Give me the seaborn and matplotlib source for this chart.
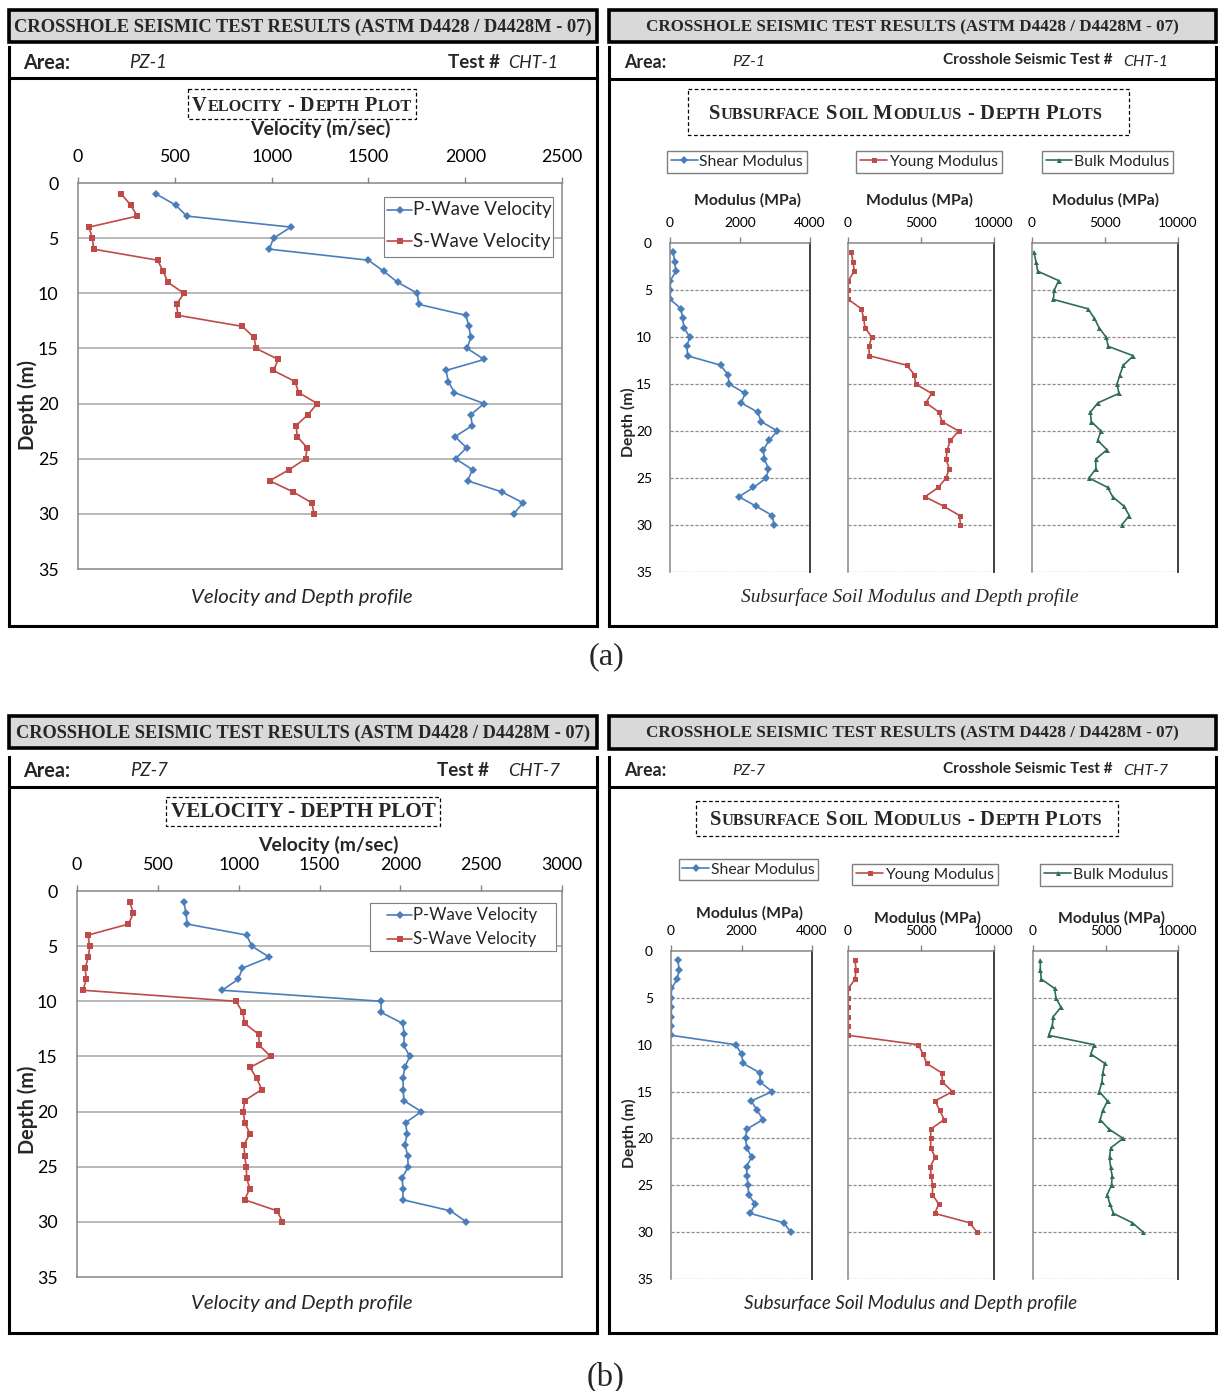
import matplotlib
matplotlib.use("Agg")
import matplotlib.pyplot as plt
import seaborn as sns
from matplotlib.patches import Rectangle
from matplotlib.lines import Line2D

# ---------------- data ----------------
depth = list(range(1, 31))

p_wave_a = [404, 504, 562, 1100, 1010, 988, 1500, 1579, 1651, 1753, 1760, 2004, 2019, 2029, 2010,
            2098, 1901, 1913, 1944, 2098, 2029, 2036, 1947, 2007, 1950, 2038, 2012, 2188, 2299, 2250]
s_wave_a = [224, 272, 306, 57, 74, 81, 411, 440, 464, 547, 509, 516, 849, 909, 920,
            1035, 1009, 1121, 1140, 1236, 1188, 1126, 1133, 1183, 1176, 1090, 990, 1110, 1208, 1219]
shear_a = [95, 133, 171, 10, 10, 10, 314, 361, 399, 560, 485, 503, 1444, 1653, 1691,
           2147, 2033, 2508, 2603, 3069, 2831, 2670, 2698, 2812, 2755, 2385, 1967, 2461, 2926, 2974]
young_a = [228, 342, 434, 20, 20, 23, 913, 1073, 1164, 1621, 1438, 1461, 4018, 4543, 4635,
           5730, 5342, 6233, 6438, 7580, 7009, 6803, 6712, 6940, 6712, 6187, 5274, 6552, 7648, 7694]
bulk_a = [137, 274, 388, 1826, 1530, 1461, 3835, 4269, 4589, 5068, 5228, 6940, 6256, 6027, 5822,
          5959, 4520, 3995, 4064, 4726, 4497, 5137, 4361, 4383, 3904, 5182, 5525, 6301, 6666, 6141]

p_wave_b = [661, 674, 682, 1050, 1081, 1190, 1023, 998, 897, 1882, 1880, 2014, 2025, 2021, 2058,
            2027, 2016, 2019, 2021, 2130, 2033, 2041, 2029, 2045, 2049, 2012, 2016, 2016, 2310, 2409]
s_wave_b = [326, 349, 318, 68, 79, 70, 50, 58, 37, 983, 1025, 1037, 1124, 1128, 1198,
            1070, 1112, 1143, 1037, 1029, 1037, 1070, 1033, 1037, 1047, 1050, 1068, 1037, 1238, 1271]
shear_b = [199, 228, 180, 10, 10, 10, 10, 10, 10, 1839, 2000, 2048, 2522, 2531, 2872,
           2275, 2446, 2607, 2152, 2114, 2152, 2285, 2142, 2152, 2190, 2199, 2389, 2247, 3204, 3394]
young_b = [482, 551, 482, 23, 23, 23, 23, 23, 23, 4817, 5139, 5391, 6423, 6469, 7157,
           5964, 6286, 6584, 5666, 5666, 5666, 5964, 5643, 5689, 5804, 5781, 6217, 5941, 8327, 8832]
bulk_b = [505, 505, 574, 1491, 1583, 1927, 1399, 1330, 1078, 4221, 3992, 4955, 4817, 4749, 4565,
          5139, 4817, 4634, 5230, 6217, 5368, 5276, 5345, 5460, 5414, 5116, 5299, 5551, 6859, 7593]

vel_labels = ["P-Wave Velocity", "S-Wave Velocity"]
mod_labels = ["Shear Modulus", "Young Modulus", "Bulk Modulus"]
header = "CROSSHOLE SEISMIC TEST RESULTS (ASTM D4428 / D4428M - 07)"

# ---------------- style ----------------
W, H = 1218, 1391
sns.set_style("white")
SANS = ["Lato", "DejaVu Sans"]
SERIF = ["Liberation Serif", "DejaVu Serif"]
plt.rcParams["font.family"] = SANS

BLUE, RED, GREEN = "#4a7ebb", "#be4b48", "#2e6e52"
SPINE, GRID = "#868686", "#a6a6a6"

fig = plt.figure(figsize=(W / 100, H / 100), dpi=100, facecolor="white")
bg = fig.add_axes([0, 0, 1, 1])
bg.set_xlim(0, W)
bg.set_ylim(H, 0)
bg.axis("off")
R = fig.canvas.get_renderer()


def text_w(s, size, **kw):
    t = bg.text(0, 0, s, fontsize=size, **kw)
    w = t.get_window_extent(R).width
    t.remove()
    return w


def fit(s, width, **kw):
    return 20 * width / text_w(s, 20, **kw)


def put(x, y, s, width, ha="left", va="center", rot=0, ax=None, **kw):
    size = fit(s, width, **kw)
    return (ax or bg).text(x, y, s, fontsize=size, ha=ha, va=va, rotation=rot, **kw)


def smallcaps(xc, yc, words, width, ratio=0.8, **kw):
    def layout(size):
        pieces, x = [], 0
        space = text_w("n n", size, **kw) - text_w("nn", size, **kw)
        gap = 0.06 * size
        for i, w in enumerate(words):
            if i:
                x += space
            big, small = w[0], w[1:]
            pieces.append((x, big, size))
            x += text_w(big, size, **kw) + gap
            if small:
                pieces.append((x, small, size * ratio))
                x += text_w(small, size * ratio, **kw)
        return pieces, x
    _, tot = layout(20)
    size = 20 * width / tot
    pieces, tot = layout(size)
    x0 = xc - tot / 2
    base = yc + 0.33 * size / 0.72
    for x, s, sz in pieces:
        bg.text(x0 + x, base, s, fontsize=sz, ha="left", va="baseline", **kw)


def add_ax(x0, y0, x1, y1):
    return fig.add_axes([x0 / W, 1 - y1 / H, (x1 - x0) / W, (y1 - y0) / H])


def vline(x, y0, y1, lw=2.2):
    bg.plot([x, x], [y0, y1], color="black", lw=lw, solid_capstyle="projecting")


def hline(y, x0, x1, lw=2.2):
    bg.plot([x0, x1], [y, y], color="black", lw=lw, solid_capstyle="projecting")


def frame(x0, x1, top_hdr, bot_hdr, top, sep, bottom, htxt_w):
    bg.add_patch(Rectangle((x0, top_hdr), x1 - x0, bot_hdr - top_hdr, facecolor="#d9d9d9",
                           edgecolor="black", lw=2.6))
    put((x0 + x1) / 2, (top_hdr + bot_hdr) / 2 + 1, header, htxt_w, ha="center",
        family=SERIF, fontweight="bold")
    vline(x0, top, bottom)
    vline(x1, top, bottom)
    hline(bottom, x0, x1)
    hline(sep, x0, x1)


def dashed_box(x0, y0, x1, y1):
    bg.add_patch(Rectangle((x0, y0), x1 - x0, y1 - y0, fill=False, edgecolor="black",
                           lw=0.9, ls=(0, (3, 2))))


legend_jobs = []


def legend_box(box, rows_y, lines, labels, hx, tx, text_w_px):
    legend_jobs.append((box, rows_y, lines, labels, hx, tx, text_w_px))


def draw_legends(layer):
    for box, rows_y, lines, labels, hx, tx, text_w_px in legend_jobs:
        x0, y0, x1, y1 = box
        layer.add_patch(Rectangle((x0, y0), x1 - x0, y1 - y0, facecolor="white",
                                  edgecolor="#7f7f7f", lw=0.8))
        fs = fit(labels[0], text_w_px)
        for y, ln, lab in zip(rows_y, lines, labels):
            layer.add_line(Line2D([hx[0], hx[1]], [y, y], color=ln.get_color(),
                                  lw=ln.get_linewidth()))
            layer.plot([(hx[0] + hx[1]) / 2], [y], marker=ln.get_marker(), color=ln.get_color(),
                       markersize=ln.get_markersize(), markeredgewidth=0)
            layer.text(tx, y, lab, fontsize=fs, ha="left", va="center")


# ---------------- velocity panel ----------------
def velocity_panel(box, p, s, xmax):
    x0, y0, x1, y1 = box
    ax = add_ax(x0, y0, x1, y1)
    sns.lineplot(x=p, y=depth, sort=False, estimator=None, color=BLUE, marker="D",
                 markersize=4.2, markeredgewidth=0, linewidth=1.2, ax=ax)
    sns.lineplot(x=s, y=depth, sort=False, estimator=None, color=RED, marker="s",
                 markersize=4.2, markeredgewidth=0, linewidth=1.2, ax=ax)
    ax.set_xlim(0, xmax)
    ax.set_ylim(35, 0)
    ax.set_xticks(range(0, xmax + 1, 500))
    ax.set_yticks(range(0, 36, 5))
    ax.xaxis.tick_top()
    fs = fit("2500", 41)
    ax.tick_params(axis="both", direction="out", length=4, width=1, color=SPINE,
                   labelsize=fs, labelcolor="black")
    ax.tick_params(axis="x", pad=9)
    ax.tick_params(axis="y", pad=10)
    for v in range(5, 35, 5):
        ax.axhline(v, color=GRID, lw=1.1, zorder=0)
    for sp in ax.spines.values():
        sp.set_color(SPINE)
        sp.set_linewidth(1.1)
        sp.set_visible(True)
    ax.set_xlabel("")
    ax.set_ylabel("")
    if ax.get_legend() is not None:
        ax.get_legend().remove()
    return ax


# ---------------- modulus panel ----------------
def modulus_panel(boxes, ytop, ybot, series, leg_centers, leg_fs):
    xmaxes = [4000, 10000, 10000]
    steps = [2000, 5000, 5000]
    cols = [BLUE, RED, GREEN]
    marks = ["D", "s", "^"]
    fs = fit("10000", 40)
    for i, ((x0, x1), vals) in enumerate(zip(boxes, series)):
        ax = add_ax(x0, ytop, x1, ybot)
        sns.lineplot(x=vals, y=depth, sort=False, estimator=None, color=cols[i], marker=marks[i],
                     markersize=3.6, markeredgewidth=0, linewidth=1.2, ax=ax)
        ax.set_xlim(0, xmaxes[i])
        ax.set_ylim(35, 0)
        ax.set_xticks(range(0, xmaxes[i] + 1, steps[i]))
        ax.set_yticks(range(0, 36, 5))
        ax.xaxis.tick_top()
        ax.tick_params(axis="both", direction="out", length=4, width=1, color=SPINE,
                       labelsize=fs, labelcolor="black")
        ax.tick_params(axis="x", pad=6)
        ax.tick_params(axis="y", pad=9, labelleft=(i == 0))
        for v in range(5, 36, 5):
            ax.axhline(v, color="#8c8c8c", lw=0.9, ls=(0, (2.5, 1.5)), zorder=0)
        for sp in ax.spines.values():
            sp.set_color(SPINE)
            sp.set_linewidth(1.1)
        ax.spines["bottom"].set_visible(False)
        ax.spines["right"].set_color("#404040")
        ax.spines["right"].set_linewidth(1.4)
        ax.set_xlabel("")
        ax.set_ylabel("")
        leg = ax.legend(handles=ax.get_lines()[:1], labels=[mod_labels[i]], loc="center",
                        bbox_to_anchor=(leg_centers[i][0] / W, 1 - leg_centers[i][1] / H),
                        bbox_transform=fig.transFigure, frameon=True, fancybox=False,
                        edgecolor="#7f7f7f", framealpha=1, fontsize=leg_fs, handlelength=1.7,
                        handletextpad=0.1, borderpad=0.25)
        leg.get_frame().set_linewidth(1.0)


# ================= (a) =================
frame(9, 597, 10, 42, 47, 77.5, 626, 575)
frame(609, 1216, 10, 42, 47, 78.5, 626, 531)

put(23, 63, "Area:", 47, fontweight="bold")
put(129, 63, "PZ-1", 38, fontstyle="italic")
put(448, 63, "Test #", 52, fontweight="bold")
put(508, 63, "CHT-1", 50, fontstyle="italic")
put(624, 62, "Area:", 42, fontweight="bold")
put(732, 62, "PZ-1", 33, fontstyle="italic")
put(943, 60, "Crosshole Seismic Test #", 170, fontweight="bold")
put(1123, 62, "CHT-1", 45, fontstyle="italic")

dashed_box(188, 89, 416, 119)
smallcaps(302, 104, ["VELOCITY", "-", "DEPTH", "PLOT"], 220, family=SERIF, fontweight="bold")
put(320, 129, "Velocity (m/sec)", 140, ha="center", fontweight="bold")
put(28, 405, "Depth (m)", 90, ha="center", rot=90, fontweight="bold")
axa = velocity_panel((78, 183, 562, 569), p_wave_a, s_wave_a, 2500)
legend_box((384, 197, 553, 257), [210, 241], axa.get_lines()[:2], vel_labels,
           (387, 412), 413, 139)
put(302, 597, "Velocity and Depth profile", 222, ha="center", fontstyle="italic")

dashed_box(688, 89, 1129, 135)
smallcaps(906, 112, ["SUBSURFACE", "SOIL", "MODULUS", "-", "DEPTH", "PLOTS"], 396,
          family=SERIF, fontweight="bold")
for xc in (747, 920, 1106):
    put(xc, 200, "Modulus (MPa)", 107, ha="center", fontweight="bold")
put(628, 422, "Depth (m)", 70, ha="center", rot=90, fontweight="bold")
modulus_panel([(670, 810), (848, 994), (1032, 1178)], 243, 572,
              [shear_a, young_a, bulk_a], [(737, 162), (929, 162), (1107.5, 162)],
              fit("Shear Modulus", 104))
put(910, 597, "Subsurface Soil Modulus and Depth profile", 337, ha="center",
    family=SERIF, fontstyle="italic")

put(606, 657, "(a)", 36, ha="center", family=SERIF)

# ================= (b) =================
frame(9, 597, 716, 748, 757, 787, 1333, 574)
frame(609, 1216, 716, 749, 757, 787, 1333, 529)

put(23, 771, "Area:", 47, fontweight="bold")
put(130, 771, "PZ-7", 38, fontstyle="italic")
put(437, 771, "Test #", 52, fontweight="bold")
put(508, 771, "CHT-7", 52, fontstyle="italic")
put(624, 771, "Area:", 42, fontweight="bold")
put(732, 771, "PZ-7", 33, fontstyle="italic")
put(943, 769, "Crosshole Seismic Test #", 170, fontweight="bold")
put(1123, 771, "CHT-7", 45, fontstyle="italic")

dashed_box(166, 797, 440, 826)
put(303, 812, "VELOCITY - DEPTH PLOT", 264, ha="center", family=SERIF, fontweight="bold")
put(328, 845, "Velocity (m/sec)", 140, ha="center", fontweight="bold")
put(28, 1110, "Depth (m)", 88, ha="center", rot=90, fontweight="bold")
axb = velocity_panel((77, 891, 562, 1277), p_wave_b, s_wave_b, 3000)
legend_box((370, 903, 556, 951), [915, 939], axb.get_lines()[:2], vel_labels,
           (387, 412), 413, 124)
put(302, 1303, "Velocity and Depth profile", 222, ha="center", fontstyle="italic")

dashed_box(696, 801, 1118, 836)
smallcaps(906, 818, ["SUBSURFACE", "SOIL", "MODULUS", "-", "DEPTH", "PLOTS"], 394,
          family=SERIF, fontweight="bold")
for xc, yc in [(750, 913), (928, 918), (1111, 918)]:
    put(xc, yc, "Modulus (MPa)", 107, ha="center", fontweight="bold")
put(629, 1133, "Depth (m)", 70, ha="center", rot=90, fontweight="bold")
modulus_panel([(671, 812), (848, 994), (1033, 1178)], 951, 1279,
              [shear_b, young_b, bulk_b], [(748.5, 869.5), (925, 874.5), (1106, 875)],
              fit("Shear Modulus", 104))
put(911, 1304, "Subsurface Soil Modulus and Depth profile", 332, ha="center",
    fontstyle="italic")

put(606, 1377, "(b)", 38, ha="center", family=SERIF)

# top layer for the velocity legends (drawn above the plot axes)
fg = fig.add_axes([0, 0, 1, 1])
fg.set_xlim(0, W)
fg.set_ylim(H, 0)
fg.axis("off")
fg.patch.set_alpha(0)
draw_legends(fg)

fig.savefig("out.png", dpi=100, facecolor="white")
